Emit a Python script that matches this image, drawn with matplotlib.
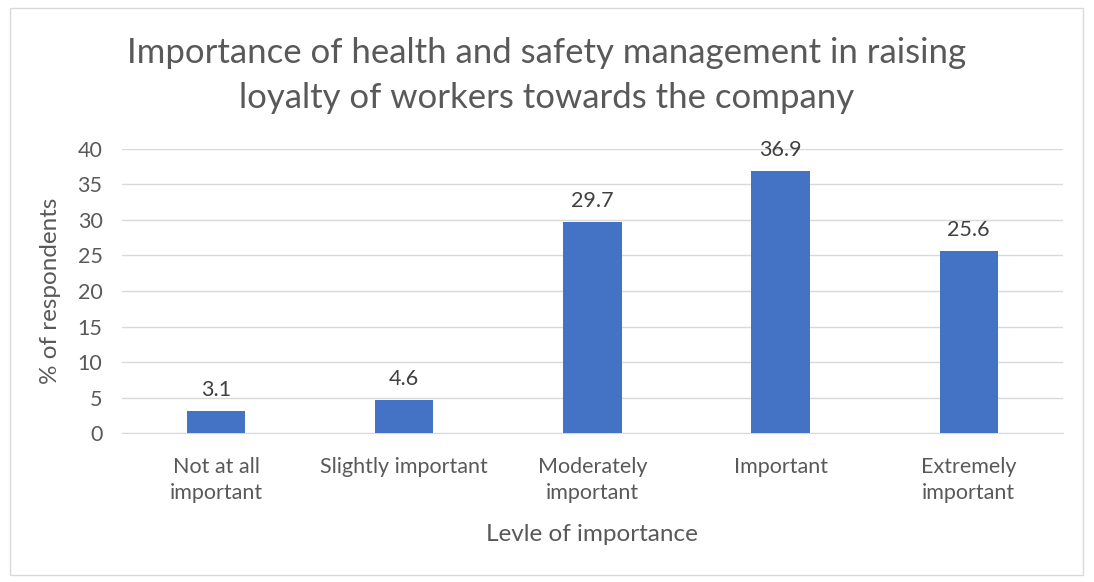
import matplotlib.pyplot as plt
from matplotlib.patches import Rectangle

categories = ['Not at all\nimportant', 'Slightly important', 'Moderately\nimportant',
              'Important', 'Extremely\nimportant']
values = [3.1, 4.6, 29.7, 36.9, 25.6]
yticks = [0, 5, 10, 15, 20, 25, 30, 35, 40]

plt.rcParams['font.family'] = ['Lato', 'DejaVu Sans']

fig = plt.figure(figsize=(10.94, 5.82), dpi=100)
ax = fig.add_axes([0.1115, 0.256, 0.860, 0.488])

x = list(range(len(categories)))
bars = ax.bar(x, values, width=0.31, color='#4472C4', zorder=3)

for xi, v in zip(x, values):
    ax.annotate(f'{v}', (xi, v), xytext=(0, 8), textcoords='offset points',
                ha='center', va='bottom', fontsize=15.5, color='#404040')

ax.set_xlim(-0.5, len(categories) - 0.5)
ax.set_ylim(0, 40)
ax.set_yticks(yticks)
ax.set_xticks(x)
ax.set_xticklabels(categories, fontsize=15.5, color='#595959', linespacing=1.42)
ax.tick_params(axis='y', labelsize=15.5, colors='#595959', length=0, pad=14)
ax.tick_params(axis='x', length=0, pad=17)
ax.grid(axis='y', color='#D9D9D9', linewidth=1, zorder=0)
for s in ['top', 'right', 'left']:
    ax.spines[s].set_visible(False)
ax.spines['bottom'].set_color('#D9D9D9')

ax.set_ylabel('% of respondents', fontsize=17.5, color='#595959', labelpad=12)
ax.set_xlabel('Levle of importance', fontsize=17.5, color='#595959', labelpad=15)

fig.text(0.5, 0.871, 'Importance of health and safety management in raising\nloyalty of workers towards the company',
         ha='center', va='center', fontsize=25, color='#595959', linespacing=1.5)

fig.patches.append(Rectangle((0.009, 0.012), 0.981, 0.974, transform=fig.transFigure,
                             fill=False, edgecolor='#D9D9D9', linewidth=1))

fig.savefig('out.png', dpi=100)
